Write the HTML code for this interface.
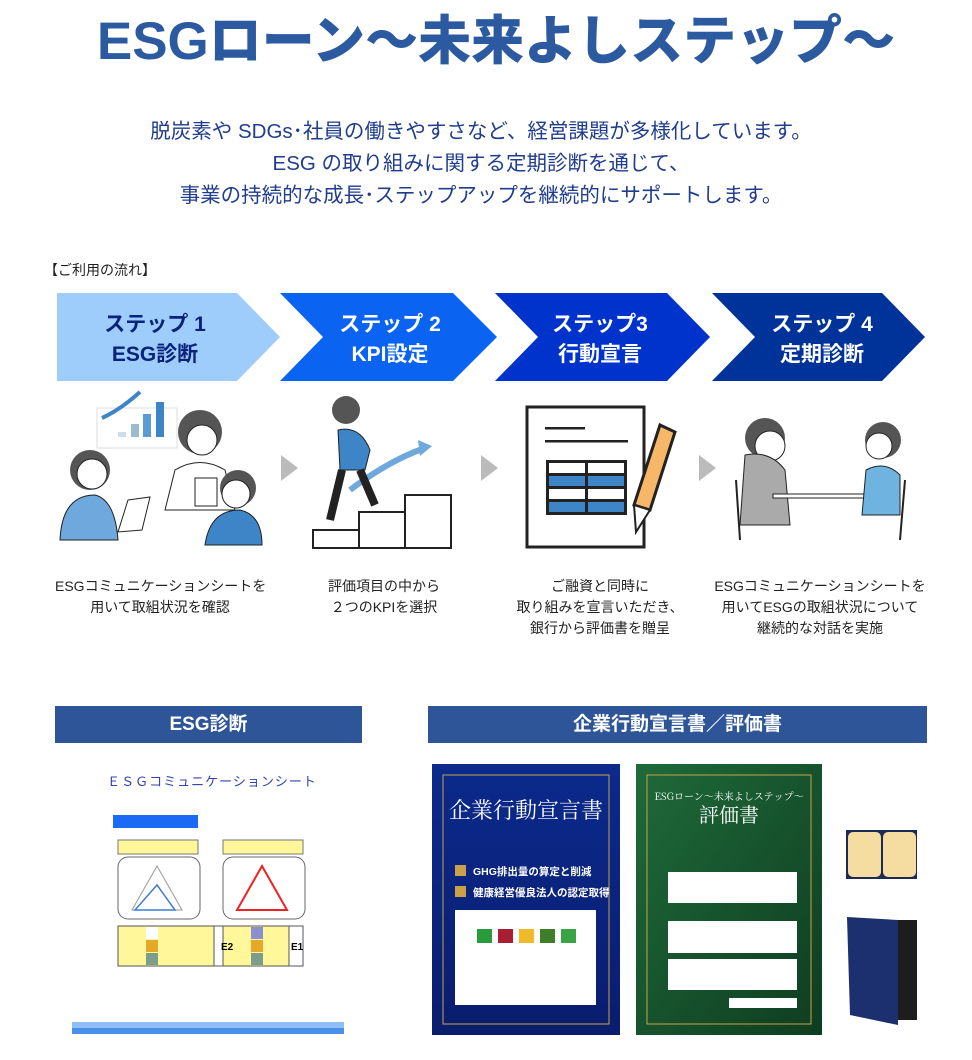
<!DOCTYPE html>
<html><head><meta charset="utf-8"><style>
*{margin:0;padding:0;box-sizing:border-box}
body{width:972px;height:1060px;background:#fff;position:relative;overflow:hidden;font-family:"Liberation Sans","Noto Sans CJK JP",sans-serif}
.a{position:absolute}
.t{white-space:nowrap}
.cap{position:absolute;text-align:center;font-size:14px;line-height:21px;color:#222;white-space:nowrap}
.hb{position:absolute;background:#2e5597;color:#fff;font-weight:bold;font-size:19px;text-align:center;line-height:37px}
</style></head><body>
<div class="a t" style="left:0;width:992px;top:7px;text-align:center;font-size:53px;font-weight:900;color:#2c5aa0;line-height:70px">ESGローン～未来よしステップ～</div>
<div class="a" style="left:0;width:962px;top:116px;text-align:center;font-size:20.5px;line-height:32px;color:#1f3d8c">脱炭素や SDGs･社員の働きやすさなど、経営課題が多様化しています。<br>ESG の取り組みに関する定期診断を通じて、<br>事業の持続的な成長･ステップアップを継続的にサポートします。</div>
<div class="a t" style="left:44px;top:260px;font-size:14px;color:#222">【ご利用の流れ】</div>

<svg class="a" style="left:0;top:0" width="972" height="1060" font-family="Liberation Sans,Noto Sans CJK JP,sans-serif">
<polygon points="57,293 237,293 280,337 237,381 57,381" fill="#9fcdfb"/>
<polygon points="280,293 453,293 497,337 453,381 280,381 323,337" fill="#0b63f2"/>
<polygon points="495,293 667,293 710,337 667,381 495,381 538,337" fill="#0033cc"/>
<polygon points="712,293 882,293 925,337 882,381 712,381 755,337" fill="#003399"/>
<g font-size="21" font-weight="bold" text-anchor="middle">
<text x="155" y="331" fill="#0a237a">ステップ 1</text>
<text x="155" y="361" fill="#0a237a">ESG診断</text>
<text x="390" y="331" fill="#fff">ステップ 2</text>
<text x="390" y="361" fill="#fff">KPI設定</text>
<text x="600" y="331" fill="#fff">ステップ3</text>
<text x="600" y="361" fill="#fff">行動宣言</text>
<text x="822" y="331" fill="#fff">ステップ 4</text>
<text x="822" y="361" fill="#fff">定期診断</text>
</g>
<polygon points="281,455 298,468 281,481" fill="#bbb"/>
<polygon points="481,455 498,468 481,481" fill="#bbb"/>
<polygon points="699,455 716,468 699,481" fill="#bbb"/>
<!-- step1 illust -->
<rect x="97" y="408" width="80" height="40" fill="#fff" stroke="#ddd"/>
<rect x="118" y="432" width="8" height="5" fill="#cde"/><rect x="131" y="424" width="8" height="13" fill="#9bc"/><rect x="143" y="414" width="8" height="23" fill="#5a9bd5"/><rect x="156" y="402" width="8" height="35" fill="#3d85c6"/>
<path d="M102 418 Q120 410 140 392" stroke="#3d85c6" stroke-width="4" fill="none"/>
<circle cx="90" cy="470" r="20" fill="#555"/><circle cx="92" cy="474" r="15" fill="#fff" stroke="#222"/>
<path d="M60 540 Q62 495 95 495 Q115 500 118 540Z" fill="#6fa8dc" stroke="#222"/>
<polygon points="128,500 150,497 142,530 118,532" fill="#fff" stroke="#222"/>
<circle cx="200" cy="432" r="22" fill="#555"/><circle cx="202" cy="440" r="15" fill="#fff" stroke="#222"/>
<path d="M165 510 L175 470 Q200 455 225 470 L235 510Z" fill="#fff" stroke="#222"/>
<circle cx="238" cy="488" r="18" fill="#555"/><circle cx="236" cy="494" r="14" fill="#fff" stroke="#222"/>
<path d="M205 545 Q210 510 240 510 Q262 515 262 545Z" fill="#3d85c6" stroke="#222"/>
<rect x="195" y="478" width="22" height="28" fill="#fff" stroke="#222"/>
<!-- step2 -->
<rect x="313" y="530" width="50" height="18" fill="#fff" stroke="#222" stroke-width="2"/>
<rect x="359" y="512" width="48" height="36" fill="#fff" stroke="#222" stroke-width="2"/>
<rect x="405" y="495" width="46" height="53" fill="#fff" stroke="#222" stroke-width="2"/>
<path d="M350 490 Q390 460 425 448" stroke="#6fa8dc" stroke-width="6" fill="none"/>
<polygon points="418,440 432,446 420,456" fill="#6fa8dc"/>
<circle cx="346" cy="410" r="14" fill="#555"/>
<path d="M338 430 Q360 425 370 450 L365 470 L340 470Z" fill="#3d85c6" stroke="#222"/>
<path d="M342 470 L330 520 M360 470 L375 505" stroke="#222" stroke-width="8" fill="none"/>
<!-- step3 -->
<rect x="527" y="407" width="117" height="140" fill="#fff" stroke="#222" stroke-width="3"/>
<rect x="545" y="427" width="40" height="2.5" fill="#222"/><rect x="545" y="440" width="83" height="2.5" fill="#222"/>
<rect x="546" y="460" width="81" height="55" fill="#222"/>
<rect x="549" y="463" width="36" height="10" fill="#fff"/><rect x="588" y="463" width="36" height="10" fill="#fff"/>
<rect x="549" y="476" width="36" height="10" fill="#3d85c6"/><rect x="588" y="476" width="36" height="10" fill="#3d85c6"/>
<rect x="549" y="489" width="36" height="10" fill="#fff"/><rect x="588" y="489" width="36" height="10" fill="#fff"/>
<rect x="549" y="502" width="36" height="10" fill="#3d85c6"/><rect x="588" y="502" width="36" height="10" fill="#3d85c6"/>
<polygon points="660,425 675,432 650,510 634,505" fill="#f6b868" stroke="#222" stroke-width="3"/>
<polygon points="634,505 650,510 636,532" fill="#fff" stroke="#222" stroke-width="2"/>
<!-- step4 -->
<circle cx="765" cy="438" r="20" fill="#555"/><circle cx="770" cy="446" r="15" fill="#fff" stroke="#222"/>
<path d="M740 525 L745 455 Q770 450 785 470 L790 525Z" fill="#aaa" stroke="#222"/>
<rect x="773" y="494" width="100" height="4" fill="#fff" stroke="#222"/>
<circle cx="883" cy="440" r="18" fill="#555"/><circle cx="879" cy="446" r="13" fill="#fff" stroke="#222"/>
<path d="M862 515 L866 470 Q885 460 900 475 L900 515Z" fill="#6fb3e0" stroke="#222"/>
<path d="M736 480 L740 540 M905 480 L900 540" stroke="#222" stroke-width="2"/>
</svg>

<div class="cap" style="left:55px;width:210px;top:576px">ESGコミュニケーションシートを<br>用いて取組状況を確認</div>
<div class="cap" style="left:284px;width:200px;top:576px">評価項目の中から<br>２つのKPIを選択</div>
<div class="cap" style="left:490px;width:220px;top:576px">ご融資と同時に<br>取り組みを宣言いただき、<br>銀行から評価書を贈呈</div>
<div class="cap" style="left:705px;width:230px;top:576px">ESGコミュニケーションシートを<br>用いてESGの取組状況について<br>継続的な対話を実施</div>

<div class="hb" style="left:55px;top:706px;width:307px">ESG診断</div>
<div class="hb" style="left:428px;top:706px;width:499px">企業行動宣言書／評価書</div>

<svg class="a" style="left:0;top:0" width="972" height="1060" font-family="Liberation Sans,Noto Sans CJK JP,sans-serif">
<text x="212" y="786" font-size="13" fill="#3344aa" text-anchor="middle" letter-spacing="1">ＥＳＧコミュニケーションシート</text>
<rect x="113" y="815" width="85" height="13" fill="#1a6af5"/>
<rect x="118" y="840" width="80" height="14" fill="#fff799" stroke="#777"/>
<rect x="223" y="840" width="80" height="14" fill="#fff799" stroke="#777"/>
<rect x="118" y="857" width="82" height="62" rx="10" fill="#fff" stroke="#666"/>
<rect x="223" y="857" width="82" height="62" rx="10" fill="#fff" stroke="#666"/>
<polygon points="157,866 182,910 132,910" fill="none" stroke="#999"/>
<polygon points="157,885 175,910 135,910" fill="none" stroke="#3d7dd6" stroke-width="1.5"/>
<polygon points="262,866 287,910 237,910" fill="none" stroke="#e22" stroke-width="2"/>
<rect x="118" y="926" width="96" height="40" fill="#fff799" stroke="#555"/>
<rect x="214" y="926" width="14" height="40" fill="#fff" stroke="#555"/>
<rect x="146" y="927" width="12" height="12" fill="#fff"/><rect x="146" y="940" width="12" height="12" fill="#e5a92a"/><rect x="146" y="953" width="12" height="12" fill="#7c9c8c"/>
<rect x="223" y="926" width="80" height="40" fill="#fff799" stroke="#555"/>
<rect x="289" y="926" width="14" height="40" fill="#fff" stroke="#555"/>
<rect x="251" y="927" width="12" height="12" fill="#8a8fcf"/><rect x="251" y="940" width="12" height="12" fill="#e5a92a"/><rect x="251" y="953" width="12" height="12" fill="#7c9c8c"/>
<text x="221" y="950" font-size="10" font-weight="bold">E2</text><text x="291" y="950" font-size="10" font-weight="bold">E1</text>
<rect x="72" y="1022" width="272" height="12" fill="#8fc0f5"/>
<rect x="72" y="1028" width="272" height="6" fill="#4a90e8"/>
<defs><linearGradient id="bg" x1="0" y1="0" x2="0" y2="1"><stop offset="0" stop-color="#0b2a8c"/><stop offset="1" stop-color="#0a1d6e"/></linearGradient>
<linearGradient id="gg" x1="0" y1="0" x2="1" y2="1"><stop offset="0" stop-color="#1f6a3a"/><stop offset="1" stop-color="#0e3d20"/></linearGradient></defs>
<rect x="432" y="764" width="188" height="271" fill="url(#bg)"/>
<rect x="443" y="775" width="166" height="249" fill="none" stroke="#c9a24a"/>
<text x="526" y="818" font-size="22" fill="#fff" text-anchor="middle" font-family="Noto Serif CJK SC,serif">企業行動宣言書</text>
<rect x="455" y="865" width="11" height="11" fill="#c9a24a"/><text x="473" y="875" font-size="10.5" font-weight="bold" fill="#fff">GHG排出量の算定と削減</text>
<rect x="455" y="886" width="11" height="11" fill="#c9a24a"/><text x="473" y="896" font-size="10.5" font-weight="bold" fill="#fff">健康経営優良法人の認定取得</text>
<rect x="455" y="910" width="141" height="95" fill="#fff"/>
<rect x="477" y="929" width="15" height="14" fill="#2a9d3a"/><rect x="498" y="929" width="15" height="14" fill="#a81f34"/><rect x="519" y="929" width="15" height="14" fill="#f0b92a"/><rect x="540" y="929" width="15" height="14" fill="#3e7d2a"/><rect x="561" y="929" width="15" height="14" fill="#3aa345"/>
<rect x="636" y="764" width="186" height="271" fill="url(#gg)"/>
<rect x="647" y="775" width="164" height="249" fill="none" stroke="#c9a24a"/>
<text x="729" y="800" font-size="10" fill="#fff" text-anchor="middle" font-family="Noto Serif CJK SC,serif">ESGローン～未来よしステップ～</text>
<text x="729" y="822" font-size="20" fill="#fff" text-anchor="middle" font-family="Noto Serif CJK SC,serif">評価書</text>
<rect x="668" y="872" width="129" height="31" fill="#fff"/>
<rect x="668" y="921" width="129" height="32" fill="#fff"/>
<rect x="668" y="959" width="129" height="31" fill="#fff"/>
<rect x="729" y="998" width="68" height="10" fill="#fff"/>
<rect x="846" y="830" width="71" height="49" fill="#1c2a55"/>
<rect x="848" y="832" width="33" height="45" rx="5" fill="#f5dca0"/><rect x="883" y="832" width="33" height="45" rx="5" fill="#f5dca0"/>
<rect x="880" y="920" width="37" height="100" fill="#1d1d1d"/>
<polygon points="847,917 898,920 898,1025 850,1015" fill="#1c2f6e"/>
</svg>
</body></html>
